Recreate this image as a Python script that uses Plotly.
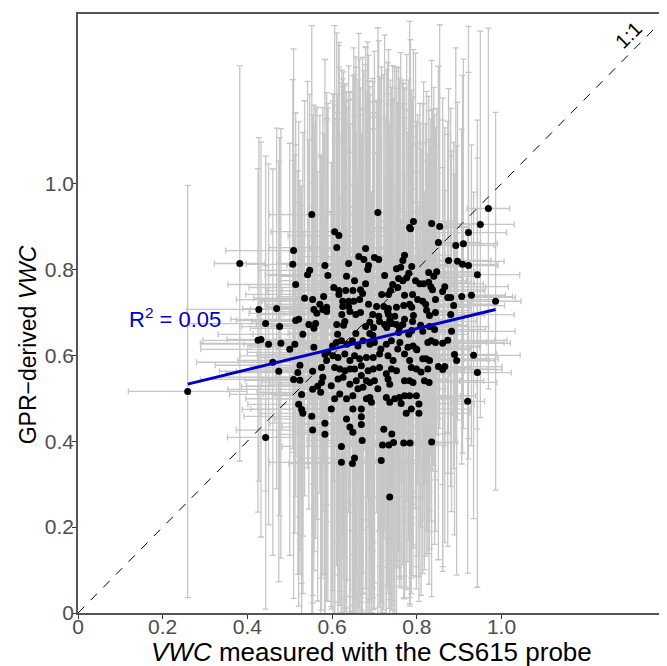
import plotly.graph_objects as go

probe_vwc = [
    0.969, 0.708, 0.950, 0.792, 0.783, 0.785, 0.835, 0.854, 0.922, 0.606,
    0.616, 0.851, 0.910, 0.892, 0.611, 0.679, 0.771, 0.663, 0.675, 0.700,
    0.710, 0.639, 0.767, 0.875, 0.896, 0.908, 0.922, 0.686, 0.684, 0.788,
    0.752, 0.762, 0.724, 0.634, 0.781, 0.776, 0.828, 0.847, 0.840, 0.943,
    0.757, 0.767, 0.797, 0.653, 0.679, 0.807, 0.816, 0.828, 0.743, 0.604,
    0.616, 0.616, 0.632, 0.649, 0.667, 0.672, 0.755, 0.738, 0.733, 0.833,
    0.837, 0.866, 0.861, 0.717, 0.771, 0.790, 0.873, 0.880, 0.906, 0.929,
    0.986, 0.665, 0.625, 0.639, 0.651, 0.686, 0.705, 0.802, 0.814, 0.844,
    0.722, 0.733, 0.731, 0.783, 0.788, 0.752, 0.769, 0.821, 0.823, 0.887,
    0.625, 0.639, 0.623, 0.642, 0.656, 0.667, 0.696, 0.710, 0.733, 0.748,
    0.792, 0.790, 0.771, 0.767, 0.830, 0.844, 0.880, 0.630, 0.611, 0.627,
    0.689, 0.679, 0.698, 0.712, 0.724, 0.729, 0.741, 0.736, 0.752, 0.759,
    0.809, 0.830, 0.842, 0.613, 0.656, 0.689, 0.696, 0.757, 0.781, 0.788,
    0.814, 0.882, 0.552, 0.509, 0.382, 0.507, 0.583, 0.547, 0.542, 0.590,
    0.514, 0.535, 0.554, 0.580, 0.427, 0.469, 0.571, 0.557, 0.578, 0.587,
    0.587, 0.564, 0.443, 0.476, 0.514, 0.521, 0.545, 0.561, 0.531, 0.557,
    0.425, 0.432, 0.450, 0.479, 0.512, 0.500, 0.557, 0.460, 0.474, 0.524,
    0.519, 0.509, 0.524, 0.554, 0.575, 0.587, 0.583, 0.590, 0.578, 0.575,
    0.566, 0.554, 0.573, 0.528, 0.521, 0.528, 0.531, 0.552, 0.583, 0.554,
    0.583, 0.259, 0.443, 0.861, 0.873, 0.844, 0.889, 0.894, 0.934, 0.943,
    0.851, 0.866, 0.861, 0.920, 0.835, 0.736, 0.601, 0.610, 0.622, 0.635,
    0.648, 0.661, 0.673, 0.689, 0.700, 0.715, 0.728, 0.740, 0.760, 0.779,
    0.791, 0.799, 0.826, 0.834, 0.602, 0.614, 0.630, 0.642, 0.653, 0.665,
    0.681, 0.697, 0.712, 0.732, 0.744, 0.755, 0.771, 0.783, 0.800, 0.814,
    0.822, 0.830, 0.606, 0.618, 0.630, 0.642, 0.653, 0.669, 0.685, 0.697,
    0.712, 0.728, 0.740, 0.752, 0.787, 0.799, 0.810, 0.826, 0.598, 0.614,
    0.626, 0.642, 0.657, 0.669, 0.681, 0.689, 0.700, 0.708, 0.732, 0.736,
    0.771, 0.783, 0.791, 0.818, 0.829, 0.606, 0.618, 0.634, 0.649, 0.661,
    0.673, 0.681, 0.689, 0.693, 0.728, 0.736, 0.748, 0.759, 0.771, 0.783,
    0.799, 0.763, 0.805, 0.598, 0.634, 0.649, 0.669, 0.787, 0.775, 0.805,
    0.642, 0.649, 0.669, 0.669, 0.671, 0.722, 0.741, 0.719, 0.734, 0.745,
    0.769, 0.784, 0.622, 0.622, 0.648, 0.653, 0.716,
]
gpr_vwc = [
    0.942, 0.933, 0.905, 0.912, 0.898, 0.895, 0.907, 0.900, 0.886, 0.888,
    0.879, 0.863, 0.860, 0.856, 0.851, 0.849, 0.833, 0.830, 0.823, 0.828,
    0.823, 0.814, 0.821, 0.821, 0.819, 0.812, 0.809, 0.809, 0.800, 0.807,
    0.802, 0.805, 0.786, 0.784, 0.791, 0.781, 0.793, 0.795, 0.784, 0.788,
    0.779, 0.774, 0.774, 0.774, 0.767, 0.767, 0.767, 0.770, 0.765, 0.758,
    0.751, 0.742, 0.751, 0.751, 0.753, 0.744, 0.758, 0.751, 0.742, 0.760,
    0.753, 0.760, 0.749, 0.742, 0.740, 0.742, 0.735, 0.735, 0.737, 0.740,
    0.726, 0.730, 0.726, 0.726, 0.726, 0.719, 0.714, 0.730, 0.726, 0.730,
    0.714, 0.709, 0.702, 0.719, 0.712, 0.712, 0.716, 0.719, 0.705, 0.716,
    0.714, 0.714, 0.695, 0.702, 0.695, 0.700, 0.695, 0.691, 0.695, 0.691,
    0.693, 0.679, 0.684, 0.672, 0.693, 0.700, 0.695, 0.679, 0.672, 0.670,
    0.677, 0.667, 0.665, 0.679, 0.672, 0.665, 0.674, 0.681, 0.672, 0.665,
    0.670, 0.667, 0.660, 0.649, 0.651, 0.651, 0.647, 0.653, 0.649, 0.658,
    0.656, 0.656, 0.928, 0.844, 0.814, 0.812, 0.809, 0.798, 0.788, 0.786,
    0.765, 0.733, 0.730, 0.737, 0.707, 0.709, 0.719, 0.707, 0.707, 0.712,
    0.702, 0.698, 0.674, 0.667, 0.681, 0.684, 0.672, 0.674, 0.649, 0.663,
    0.635, 0.637, 0.626, 0.628, 0.626, 0.614, 0.619, 0.584, 0.563, 0.577,
    0.560, 0.544, 0.542, 0.563, 0.572, 0.588, 0.602, 0.607, 0.549, 0.537,
    0.528, 0.521, 0.514, 0.509, 0.486, 0.474, 0.465, 0.458, 0.442, 0.426,
    0.416, 0.516, 0.409, 0.628, 0.635, 0.630, 0.602, 0.588, 0.600, 0.560,
    0.574, 0.574, 0.567, 0.493, 0.398, 0.270, 0.622, 0.630, 0.634, 0.626,
    0.634, 0.622, 0.634, 0.626, 0.630, 0.615, 0.626, 0.634, 0.630, 0.619,
    0.622, 0.615, 0.630, 0.634, 0.599, 0.595, 0.603, 0.588, 0.599, 0.592,
    0.595, 0.595, 0.603, 0.599, 0.588, 0.615, 0.603, 0.588, 0.613, 0.592,
    0.592, 0.588, 0.572, 0.568, 0.564, 0.568, 0.568, 0.576, 0.564, 0.568,
    0.572, 0.557, 0.568, 0.564, 0.572, 0.568, 0.561, 0.568, 0.529, 0.545,
    0.549, 0.533, 0.541, 0.553, 0.541, 0.537, 0.541, 0.522, 0.545, 0.533,
    0.541, 0.541, 0.537, 0.541, 0.537, 0.499, 0.510, 0.499, 0.506, 0.522,
    0.526, 0.499, 0.502, 0.491, 0.502, 0.491, 0.499, 0.502, 0.506, 0.506,
    0.506, 0.488, 0.487, 0.475, 0.452, 0.475, 0.475, 0.475, 0.465, 0.465,
    0.433, 0.421, 0.457, 0.439, 0.402, 0.428, 0.417, 0.391, 0.391, 0.397,
    0.396, 0.396, 0.388, 0.351, 0.348, 0.361, 0.355,
]
probe_err = [
    0.05, 0.12, 0.08, 0.10, 0.14, 0.09, 0.11, 0.07, 0.09, 0.15,
    0.12, 0.10, 0.08, 0.09, 0.16, 0.13, 0.11, 0.14, 0.10, 0.12,
    0.09, 0.17, 0.12, 0.10, 0.11, 0.08, 0.07, 0.13, 0.10, 0.12,
    0.11, 0.09, 0.14, 0.16, 0.10, 0.13, 0.12, 0.09, 0.11, 0.10,
    0.13, 0.10, 0.12, 0.18, 0.11, 0.15, 0.12, 0.10, 0.14, 0.20,
    0.17, 0.22, 0.15, 0.13, 0.16, 0.12, 0.10, 0.14, 0.11, 0.13,
    0.12, 0.15, 0.10, 0.13, 0.11, 0.14, 0.16, 0.09, 0.12, 0.08,
    0.06, 0.15, 0.19, 0.21, 0.14, 0.12, 0.16, 0.13, 0.11, 0.14,
    0.13, 0.10, 0.15, 0.12, 0.14, 0.11, 0.13, 0.16, 0.10, 0.12,
    0.18, 0.16, 0.20, 0.14, 0.17, 0.12, 0.15, 0.11, 0.13, 0.10,
    0.12, 0.15, 0.11, 0.14, 0.13, 0.10, 0.15, 0.22, 0.19, 0.17,
    0.14, 0.12, 0.16, 0.13, 0.11, 0.15, 0.12, 0.14, 0.10, 0.13,
    0.11, 0.14, 0.12, 0.20, 0.16, 0.13, 0.15, 0.12, 0.14, 0.10,
    0.13, 0.15, 0.10, 0.16, 0.06, 0.11, 0.09, 0.12, 0.10, 0.14,
    0.16, 0.12, 0.18, 0.11, 0.17, 0.08, 0.13, 0.15, 0.10, 0.14,
    0.12, 0.16, 0.18, 0.09, 0.14, 0.16, 0.11, 0.13, 0.20, 0.15,
    0.13, 0.08, 0.16, 0.19, 0.12, 0.21, 0.15, 0.18, 0.14, 0.20,
    0.17, 0.22, 0.13, 0.18, 0.15, 0.21, 0.16, 0.19, 0.24, 0.14,
    0.18, 0.20, 0.15, 0.17, 0.12, 0.14, 0.10, 0.16, 0.13, 0.18,
    0.11, 0.14, 0.09, 0.16, 0.14, 0.12, 0.10, 0.09, 0.11, 0.08,
    0.15, 0.12, 0.14, 0.04, 0.06, 0.08, 0.20, 0.18, 0.16, 0.21,
    0.17, 0.19, 0.14, 0.16, 0.13, 0.18, 0.15, 0.12, 0.14, 0.17,
    0.16, 0.13, 0.18, 0.15, 0.22, 0.19, 0.17, 0.20, 0.15, 0.18,
    0.14, 0.16, 0.12, 0.15, 0.13, 0.17, 0.14, 0.16, 0.12, 0.15,
    0.17, 0.14, 0.19, 0.21, 0.16, 0.18, 0.15, 0.13, 0.17, 0.14,
    0.12, 0.15, 0.13, 0.16, 0.14, 0.17, 0.12, 0.16, 0.20, 0.18,
    0.16, 0.19, 0.14, 0.17, 0.13, 0.15, 0.12, 0.16, 0.14, 0.11,
    0.13, 0.12, 0.15, 0.14, 0.16, 0.21, 0.18, 0.16, 0.19, 0.14,
    0.15, 0.13, 0.17, 0.12, 0.14, 0.11, 0.16, 0.13, 0.15, 0.12,
    0.14, 0.12, 0.13, 0.19, 0.17, 0.15, 0.13, 0.14, 0.11, 0.12,
    0.16, 0.14, 0.12, 0.15, 0.13, 0.11, 0.14, 0.12, 0.13, 0.10,
    0.12, 0.06, 0.14, 0.17, 0.15, 0.13, 0.11,
]
gpr_err = [
    0.42, 0.43, 0.45, 0.40, 0.48, 0.44, 0.38, 0.47, 0.48, 0.48,
    0.45, 0.41, 0.43, 0.46, 0.50, 0.47, 0.39, 0.52, 0.44, 0.48,
    0.51, 0.46, 0.42, 0.40, 0.37, 0.44, 0.45, 0.49, 0.53, 0.41,
    0.47, 0.50, 0.56, 0.43, 0.45, 0.52, 0.41, 0.38, 0.44, 0.36,
    0.49, 0.46, 0.53, 0.48, 0.55, 0.42, 0.47, 0.40, 0.51, 0.45,
    0.52, 0.58, 0.44, 0.50, 0.47, 0.55, 0.43, 0.49, 0.57, 0.39,
    0.42, 0.37, 0.45, 0.53, 0.48, 0.46, 0.41, 0.44, 0.39, 0.35,
    0.44, 0.56, 0.50, 0.47, 0.59, 0.52, 0.48, 0.43, 0.46, 0.40,
    0.54, 0.50, 0.58, 0.45, 0.49, 0.55, 0.47, 0.42, 0.51, 0.38,
    0.53, 0.48, 0.57, 0.51, 0.60, 0.46, 0.55, 0.50, 0.49, 0.58,
    0.44, 0.52, 0.47, 0.56, 0.41, 0.39, 0.37, 0.55, 0.51, 0.59,
    0.53, 0.61, 0.50, 0.57, 0.48, 0.60, 0.52, 0.46, 0.55, 0.58,
    0.47, 0.43, 0.50, 0.56, 0.62, 0.54, 0.59, 0.51, 0.48, 0.45,
    0.44, 0.42, 0.44, 0.47, 0.46, 0.43, 0.48, 0.41, 0.45, 0.39,
    0.40, 0.46, 0.43, 0.38, 0.40, 0.42, 0.44, 0.41, 0.47, 0.50,
    0.45, 0.48, 0.39, 0.44, 0.41, 0.46, 0.43, 0.50, 0.47, 0.52,
    0.40, 0.46, 0.42, 0.50, 0.44, 0.48, 0.52, 0.45, 0.49, 0.43,
    0.47, 0.51, 0.45, 0.54, 0.49, 0.56, 0.51, 0.58, 0.46, 0.53,
    0.50, 0.48, 0.55, 0.44, 0.47, 0.52, 0.42, 0.49, 0.46, 0.45,
    0.51, 0.48, 0.40, 0.52, 0.48, 0.44, 0.42, 0.50, 0.38, 0.50,
    0.45, 0.41, 0.47, 0.40, 0.36, 0.45, 0.57, 0.52, 0.60, 0.55,
    0.58, 0.62, 0.54, 0.60, 0.56, 0.63, 0.52, 0.59, 0.55, 0.50,
    0.47, 0.53, 0.44, 0.42, 0.61, 0.57, 0.63, 0.55, 0.60, 0.58,
    0.62, 0.56, 0.59, 0.54, 0.61, 0.51, 0.57, 0.53, 0.48, 0.50,
    0.46, 0.44, 0.58, 0.55, 0.61, 0.57, 0.59, 0.54, 0.62, 0.56,
    0.53, 0.60, 0.55, 0.58, 0.49, 0.46, 0.52, 0.43, 0.52, 0.56,
    0.60, 0.54, 0.58, 0.51, 0.56, 0.59, 0.53, 0.55, 0.50, 0.57,
    0.48, 0.52, 0.45, 0.44, 0.47, 0.50, 0.46, 0.53, 0.49, 0.51,
    0.48, 0.52, 0.47, 0.49, 0.51, 0.46, 0.50, 0.44, 0.42, 0.47,
    0.45, 0.43, 0.46, 0.46, 0.44, 0.47, 0.45, 0.43, 0.41, 0.38,
    0.43, 0.42, 0.45, 0.44, 0.40, 0.42, 0.41, 0.39, 0.38, 0.37,
    0.36, 0.38, 0.39, 0.35, 0.36, 0.34, 0.33,
]

# regression line end points and 1:1 line
fit_x = [0.259, 0.986]
fit_y = [0.533, 0.707]
one_x = [0, 1.4]
one_y = [0, 1.4]

tick_vals = [0, 0.2, 0.4, 0.6, 0.8, 1.0]
tick_text = ["0", "0.2", "0.4", "0.6", "0.8", "1.0"]

FONT = "Liberation Sans, Arial, sans-serif"

fig = go.Figure()

fig.add_trace(go.Scatter(
    x=probe_vwc, y=gpr_vwc, mode="markers",
    marker=dict(color="black", size=7),
    error_x=dict(type="data", array=probe_err, color="#c6c6c6", thickness=1.3, width=3),
    error_y=dict(type="data", array=gpr_err, color="#c6c6c6", thickness=1.3, width=3),
    showlegend=False,
))

fig.add_trace(go.Scatter(
    x=one_x, y=one_y, mode="lines",
    line=dict(color="black", width=1, dash="dash"),
    showlegend=False,
))

fig.add_trace(go.Scatter(
    x=fit_x, y=fit_y, mode="lines",
    line=dict(color="#0000cc", width=3),
    showlegend=False,
))

fig.add_annotation(x=0.229, y=0.688, text="R<sup>2</sup> = 0.05", showarrow=False,
                   font=dict(family=FONT, size=22, color="#0000cc"))
fig.add_annotation(x=1.300, y=1.345, text="1:1", textangle=-45, showarrow=False,
                   font=dict(family=FONT, size=20, color="black"))

# axis titles as paper annotations so they sit tight against the tick labels
fig.add_annotation(xref="paper", yref="paper", x=0.5, y=-0.065, yanchor="middle",
                   text="<i>VWC</i> measured with the CS615 probe", showarrow=False,
                   font=dict(family=FONT, size=26, color="black"))
fig.add_annotation(xref="paper", yref="paper", x=-0.085, y=0.447, xanchor="center",
                   text="GPR\u2212derived <i>VWC</i>", textangle=-90, showarrow=False,
                   font=dict(family=FONT, size=23, color="black"))

axis_style = dict(
    tickvals=tick_vals, ticktext=tick_text,
    ticks="outside", ticklen=4, tickcolor="#333333", tickwidth=1,
    tickfont=dict(family=FONT, size=21, color="#4d4d4d"),
    showline=True, linecolor="#555555", linewidth=1.5, mirror=True,
    showgrid=False, zeroline=False,
)

# page body adds an 8px margin, so the figure is 8px smaller than the window
fig.update_layout(
    width=659, height=658,
    margin=dict(l=70, r=0, t=6, b=53),
    plot_bgcolor="white", paper_bgcolor="white",
    font=dict(family=FONT),
    xaxis=dict(range=[0, 1.386], ticklabelstandoff=-10, **axis_style),
    yaxis=dict(range=[0, 1.395], ticklabelstandoff=-6, **axis_style),
)

fig.write_html("out.html")
